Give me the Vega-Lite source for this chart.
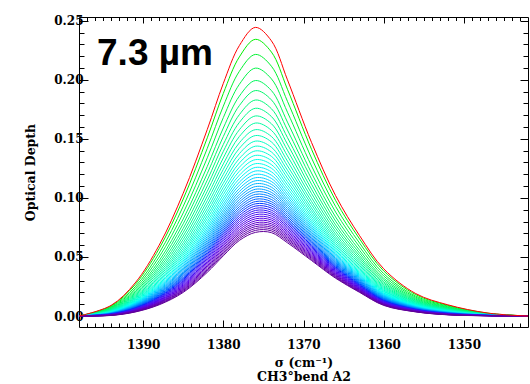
{"$schema":"https://vega.github.io/schema/vega-lite/v6.json","width":449,"height":310,"autosize":{"type":"none"},"padding":{"left":79,"top":17,"right":2,"bottom":57},"background":"white",
"config":{"view":{"stroke":"#000","strokeWidth":1},"axis":{"grid":false,"domain":false,"tickColor":"#000","tickWidth":1,"labelColor":"#000","titleColor":"#000","labelFont":"DejaVu Serif","labelFontWeight":"bold","labelFontSize":12,"titleFont":"DejaVu Serif","titleFontWeight":"bold","titleFontSize":12.5}},
"data":{"values":[
{"k":0,"x":1398,"y":0},{"k":1,"x":1398,"y":0},{"k":2,"x":1398,"y":0},{"k":3,"x":1398,"y":0},{"k":4,"x":1398,"y":0},{"k":5,"x":1398,"y":0},{"k":6,"x":1398,"y":0},{"k":7,"x":1398,"y":0},{"k":8,"x":1398,"y":0},{"k":9,"x":1398,"y":0},{"k":10,"x":1398,"y":0},{"k":11,"x":1398,"y":0},{"k":12,"x":1398,"y":0},{"k":13,"x":1398,"y":0},{"k":14,"x":1398,"y":0},{"k":15,"x":1398,"y":0},{"k":16,"x":1398,"y":0},{"k":17,"x":1398,"y":0},{"k":18,"x":1398,"y":0},{"k":19,"x":1398,"y":0},{"k":20,"x":1398,"y":0},{"k":21,"x":1398,"y":0},{"k":22,"x":1398,"y":0},{"k":23,"x":1398,"y":0},{"k":24,"x":1398,"y":0},{"k":25,"x":1398,"y":0},{"k":26,"x":1398,"y":0},{"k":27,"x":1398,"y":0},{"k":28,"x":1398,"y":0},{"k":29,"x":1398,"y":0},{"k":30,"x":1398,"y":0},{"k":31,"x":1398,"y":0},{"k":32,"x":1398,"y":0},{"k":33,"x":1398,"y":0},{"k":34,"x":1398,"y":0},{"k":35,"x":1398,"y":0},{"k":36,"x":1398,"y":0},{"k":37,"x":1398,"y":0},{"k":38,"x":1398,"y":0},{"k":39,"x":1398,"y":0},{"k":40,"x":1398,"y":0},{"k":41,"x":1398,"y":0},{"k":42,"x":1398,"y":0},{"k":43,"x":1398,"y":0},{"k":44,"x":1398,"y":0},{"k":45,"x":1398,"y":0},
{"k":0,"x":1394,"y":0.009},{"k":1,"x":1394,"y":0.0085},{"k":2,"x":1394,"y":0.0079},{"k":3,"x":1394,"y":0.0073},{"k":4,"x":1394,"y":0.0068},{"k":5,"x":1394,"y":0.0064},{"k":6,"x":1394,"y":0.006},{"k":7,"x":1394,"y":0.0056},{"k":8,"x":1394,"y":0.0053},{"k":9,"x":1394,"y":0.005},{"k":10,"x":1394,"y":0.0048},{"k":11,"x":1394,"y":0.0045},{"k":12,"x":1394,"y":0.0043},{"k":13,"x":1394,"y":0.0041},{"k":14,"x":1394,"y":0.0039},{"k":15,"x":1394,"y":0.0037},{"k":16,"x":1394,"y":0.0035},{"k":17,"x":1394,"y":0.0033},{"k":18,"x":1394,"y":0.0032},{"k":19,"x":1394,"y":0.003},{"k":20,"x":1394,"y":0.0029},{"k":21,"x":1394,"y":0.0028},{"k":22,"x":1394,"y":0.0026},{"k":23,"x":1394,"y":0.0025},{"k":24,"x":1394,"y":0.0024},{"k":25,"x":1394,"y":0.0023},{"k":26,"x":1394,"y":0.0022},{"k":27,"x":1394,"y":0.0021},{"k":28,"x":1394,"y":0.002},{"k":29,"x":1394,"y":0.0019},{"k":30,"x":1394,"y":0.0018},{"k":31,"x":1394,"y":0.0017},{"k":32,"x":1394,"y":0.0016},{"k":33,"x":1394,"y":0.0015},{"k":34,"x":1394,"y":0.0014},{"k":35,"x":1394,"y":0.0013},{"k":36,"x":1394,"y":0.0012},{"k":37,"x":1394,"y":0.0011},{"k":38,"x":1394,"y":0.0011},{"k":39,"x":1394,"y":0.001},{"k":40,"x":1394,"y":0.0009},{"k":41,"x":1394,"y":0.0008},{"k":42,"x":1394,"y":0.0007},{"k":43,"x":1394,"y":0.0007},{"k":44,"x":1394,"y":0.0006},{"k":45,"x":1394,"y":0.0005},
{"k":0,"x":1391,"y":0.028},{"k":1,"x":1391,"y":0.0266},{"k":2,"x":1391,"y":0.0247},{"k":3,"x":1391,"y":0.0231},{"k":4,"x":1391,"y":0.0216},{"k":5,"x":1391,"y":0.0204},{"k":6,"x":1391,"y":0.0193},{"k":7,"x":1391,"y":0.0183},{"k":8,"x":1391,"y":0.0174},{"k":9,"x":1391,"y":0.0165},{"k":10,"x":1391,"y":0.0157},{"k":11,"x":1391,"y":0.015},{"k":12,"x":1391,"y":0.0144},{"k":13,"x":1391,"y":0.0137},{"k":14,"x":1391,"y":0.0132},{"k":15,"x":1391,"y":0.0126},{"k":16,"x":1391,"y":0.0121},{"k":17,"x":1391,"y":0.0116},{"k":18,"x":1391,"y":0.0112},{"k":19,"x":1391,"y":0.0108},{"k":20,"x":1391,"y":0.0104},{"k":21,"x":1391,"y":0.01},{"k":22,"x":1391,"y":0.0096},{"k":23,"x":1391,"y":0.0092},{"k":24,"x":1391,"y":0.0089},{"k":25,"x":1391,"y":0.0086},{"k":26,"x":1391,"y":0.0083},{"k":27,"x":1391,"y":0.008},{"k":28,"x":1391,"y":0.0077},{"k":29,"x":1391,"y":0.0074},{"k":30,"x":1391,"y":0.0071},{"k":31,"x":1391,"y":0.0068},{"k":32,"x":1391,"y":0.0066},{"k":33,"x":1391,"y":0.0063},{"k":34,"x":1391,"y":0.006},{"k":35,"x":1391,"y":0.0058},{"k":36,"x":1391,"y":0.0055},{"k":37,"x":1391,"y":0.0053},{"k":38,"x":1391,"y":0.005},{"k":39,"x":1391,"y":0.0048},{"k":40,"x":1391,"y":0.0045},{"k":41,"x":1391,"y":0.0043},{"k":42,"x":1391,"y":0.0041},{"k":43,"x":1391,"y":0.0039},{"k":44,"x":1391,"y":0.0036},{"k":45,"x":1391,"y":0.0034},
{"k":0,"x":1388,"y":0.06},{"k":1,"x":1388,"y":0.0571},{"k":2,"x":1388,"y":0.0533},{"k":3,"x":1388,"y":0.05},{"k":4,"x":1388,"y":0.0469},{"k":5,"x":1388,"y":0.0444},{"k":6,"x":1388,"y":0.0421},{"k":7,"x":1388,"y":0.0401},{"k":8,"x":1388,"y":0.0382},{"k":9,"x":1388,"y":0.0364},{"k":10,"x":1388,"y":0.0348},{"k":11,"x":1388,"y":0.0334},{"k":12,"x":1388,"y":0.032},{"k":13,"x":1388,"y":0.0307},{"k":14,"x":1388,"y":0.0296},{"k":15,"x":1388,"y":0.0285},{"k":16,"x":1388,"y":0.0274},{"k":17,"x":1388,"y":0.0264},{"k":18,"x":1388,"y":0.0255},{"k":19,"x":1388,"y":0.0246},{"k":20,"x":1388,"y":0.0238},{"k":21,"x":1388,"y":0.023},{"k":22,"x":1388,"y":0.0222},{"k":23,"x":1388,"y":0.0215},{"k":24,"x":1388,"y":0.0208},{"k":25,"x":1388,"y":0.0201},{"k":26,"x":1388,"y":0.0195},{"k":27,"x":1388,"y":0.0189},{"k":28,"x":1388,"y":0.0182},{"k":29,"x":1388,"y":0.0177},{"k":30,"x":1388,"y":0.0171},{"k":31,"x":1388,"y":0.0165},{"k":32,"x":1388,"y":0.016},{"k":33,"x":1388,"y":0.0154},{"k":34,"x":1388,"y":0.0149},{"k":35,"x":1388,"y":0.0144},{"k":36,"x":1388,"y":0.0138},{"k":37,"x":1388,"y":0.0133},{"k":38,"x":1388,"y":0.0128},{"k":39,"x":1388,"y":0.0123},{"k":40,"x":1388,"y":0.0118},{"k":41,"x":1388,"y":0.0114},{"k":42,"x":1388,"y":0.0109},{"k":43,"x":1388,"y":0.0104},{"k":44,"x":1388,"y":0.01},{"k":45,"x":1388,"y":0.0095},
{"k":0,"x":1385,"y":0.104},{"k":1,"x":1385,"y":0.0991},{"k":2,"x":1385,"y":0.0929},{"k":3,"x":1385,"y":0.0873},{"k":4,"x":1385,"y":0.0822},{"k":5,"x":1385,"y":0.0781},{"k":6,"x":1385,"y":0.0742},{"k":7,"x":1385,"y":0.0708},{"k":8,"x":1385,"y":0.0677},{"k":9,"x":1385,"y":0.0648},{"k":10,"x":1385,"y":0.0621},{"k":11,"x":1385,"y":0.0597},{"k":12,"x":1385,"y":0.0574},{"k":13,"x":1385,"y":0.0553},{"k":14,"x":1385,"y":0.0534},{"k":15,"x":1385,"y":0.0516},{"k":16,"x":1385,"y":0.0498},{"k":17,"x":1385,"y":0.0482},{"k":18,"x":1385,"y":0.0466},{"k":19,"x":1385,"y":0.0452},{"k":20,"x":1385,"y":0.0438},{"k":21,"x":1385,"y":0.0424},{"k":22,"x":1385,"y":0.0411},{"k":23,"x":1385,"y":0.0399},{"k":24,"x":1385,"y":0.0388},{"k":25,"x":1385,"y":0.0376},{"k":26,"x":1385,"y":0.0366},{"k":27,"x":1385,"y":0.0356},{"k":28,"x":1385,"y":0.0345},{"k":29,"x":1385,"y":0.0336},{"k":30,"x":1385,"y":0.0326},{"k":31,"x":1385,"y":0.0317},{"k":32,"x":1385,"y":0.0308},{"k":33,"x":1385,"y":0.0298},{"k":34,"x":1385,"y":0.029},{"k":35,"x":1385,"y":0.0281},{"k":36,"x":1385,"y":0.0272},{"k":37,"x":1385,"y":0.0263},{"k":38,"x":1385,"y":0.0255},{"k":39,"x":1385,"y":0.0247},{"k":40,"x":1385,"y":0.0239},{"k":41,"x":1385,"y":0.0231},{"k":42,"x":1385,"y":0.0223},{"k":43,"x":1385,"y":0.0216},{"k":44,"x":1385,"y":0.0208},{"k":45,"x":1385,"y":0.02},
{"k":0,"x":1382,"y":0.158},{"k":1,"x":1382,"y":0.1509},{"k":2,"x":1382,"y":0.142},{"k":3,"x":1382,"y":0.134},{"k":4,"x":1382,"y":0.1267},{"k":5,"x":1382,"y":0.1207},{"k":6,"x":1382,"y":0.1151},{"k":7,"x":1382,"y":0.1102},{"k":8,"x":1382,"y":0.1057},{"k":9,"x":1382,"y":0.1015},{"k":10,"x":1382,"y":0.0977},{"k":11,"x":1382,"y":0.0942},{"k":12,"x":1382,"y":0.0909},{"k":13,"x":1382,"y":0.0879},{"k":14,"x":1382,"y":0.0851},{"k":15,"x":1382,"y":0.0825},{"k":16,"x":1382,"y":0.0799},{"k":17,"x":1382,"y":0.0776},{"k":18,"x":1382,"y":0.0753},{"k":19,"x":1382,"y":0.0732},{"k":20,"x":1382,"y":0.0712},{"k":21,"x":1382,"y":0.0693},{"k":22,"x":1382,"y":0.0674},{"k":23,"x":1382,"y":0.0657},{"k":24,"x":1382,"y":0.064},{"k":25,"x":1382,"y":0.0624},{"k":26,"x":1382,"y":0.0609},{"k":27,"x":1382,"y":0.0594},{"k":28,"x":1382,"y":0.0579},{"k":29,"x":1382,"y":0.0565},{"k":30,"x":1382,"y":0.0552},{"k":31,"x":1382,"y":0.0538},{"k":32,"x":1382,"y":0.0525},{"k":33,"x":1382,"y":0.0512},{"k":34,"x":1382,"y":0.0499},{"k":35,"x":1382,"y":0.0487},{"k":36,"x":1382,"y":0.0474},{"k":37,"x":1382,"y":0.0461},{"k":38,"x":1382,"y":0.045},{"k":39,"x":1382,"y":0.0438},{"k":40,"x":1382,"y":0.0426},{"k":41,"x":1382,"y":0.0415},{"k":42,"x":1382,"y":0.0403},{"k":43,"x":1382,"y":0.0392},{"k":44,"x":1382,"y":0.0381},{"k":45,"x":1382,"y":0.037},
{"k":0,"x":1380,"y":0.197},{"k":1,"x":1380,"y":0.1885},{"k":2,"x":1380,"y":0.1777},{"k":3,"x":1380,"y":0.168},{"k":4,"x":1380,"y":0.1592},{"k":5,"x":1380,"y":0.152},{"k":6,"x":1380,"y":0.1453},{"k":7,"x":1380,"y":0.1394},{"k":8,"x":1380,"y":0.1339},{"k":9,"x":1380,"y":0.1288},{"k":10,"x":1380,"y":0.1242},{"k":11,"x":1380,"y":0.12},{"k":12,"x":1380,"y":0.116},{"k":13,"x":1380,"y":0.1124},{"k":14,"x":1380,"y":0.109},{"k":15,"x":1380,"y":0.1058},{"k":16,"x":1380,"y":0.1028},{"k":17,"x":1380,"y":0.0999},{"k":18,"x":1380,"y":0.0973},{"k":19,"x":1380,"y":0.0947},{"k":20,"x":1380,"y":0.0923},{"k":21,"x":1380,"y":0.0899},{"k":22,"x":1380,"y":0.0877},{"k":23,"x":1380,"y":0.0856},{"k":24,"x":1380,"y":0.0836},{"k":25,"x":1380,"y":0.0817},{"k":26,"x":1380,"y":0.0798},{"k":27,"x":1380,"y":0.078},{"k":28,"x":1380,"y":0.0763},{"k":29,"x":1380,"y":0.0746},{"k":30,"x":1380,"y":0.0729},{"k":31,"x":1380,"y":0.0713},{"k":32,"x":1380,"y":0.0697},{"k":33,"x":1380,"y":0.0681},{"k":34,"x":1380,"y":0.0666},{"k":35,"x":1380,"y":0.0651},{"k":36,"x":1380,"y":0.0636},{"k":37,"x":1380,"y":0.062},{"k":38,"x":1380,"y":0.0606},{"k":39,"x":1380,"y":0.0592},{"k":40,"x":1380,"y":0.0577},{"k":41,"x":1380,"y":0.0564},{"k":42,"x":1380,"y":0.055},{"k":43,"x":1380,"y":0.0537},{"k":44,"x":1380,"y":0.0524},{"k":45,"x":1380,"y":0.051},
{"k":0,"x":1378,"y":0.229},{"k":1,"x":1378,"y":0.2194},{"k":2,"x":1378,"y":0.2072},{"k":3,"x":1378,"y":0.1962},{"k":4,"x":1378,"y":0.1862},{"k":5,"x":1378,"y":0.1782},{"k":6,"x":1378,"y":0.1705},{"k":7,"x":1378,"y":0.1639},{"k":8,"x":1378,"y":0.1577},{"k":9,"x":1378,"y":0.152},{"k":10,"x":1378,"y":0.1467},{"k":11,"x":1378,"y":0.142},{"k":12,"x":1378,"y":0.1375},{"k":13,"x":1378,"y":0.1334},{"k":14,"x":1378,"y":0.1296},{"k":15,"x":1378,"y":0.126},{"k":16,"x":1378,"y":0.1226},{"k":17,"x":1378,"y":0.1193},{"k":18,"x":1378,"y":0.1163},{"k":19,"x":1378,"y":0.1134},{"k":20,"x":1378,"y":0.1107},{"k":21,"x":1378,"y":0.108},{"k":22,"x":1378,"y":0.1055},{"k":23,"x":1378,"y":0.1031},{"k":24,"x":1378,"y":0.1009},{"k":25,"x":1378,"y":0.0987},{"k":26,"x":1378,"y":0.0966},{"k":27,"x":1378,"y":0.0946},{"k":28,"x":1378,"y":0.0926},{"k":29,"x":1378,"y":0.0907},{"k":30,"x":1378,"y":0.0888},{"k":31,"x":1378,"y":0.087},{"k":32,"x":1378,"y":0.0851},{"k":33,"x":1378,"y":0.0833},{"k":34,"x":1378,"y":0.0816},{"k":35,"x":1378,"y":0.0799},{"k":36,"x":1378,"y":0.0782},{"k":37,"x":1378,"y":0.0765},{"k":38,"x":1378,"y":0.0749},{"k":39,"x":1378,"y":0.0732},{"k":40,"x":1378,"y":0.0716},{"k":41,"x":1378,"y":0.0701},{"k":42,"x":1378,"y":0.0686},{"k":43,"x":1378,"y":0.067},{"k":44,"x":1378,"y":0.0655},{"k":45,"x":1378,"y":0.064},
{"k":0,"x":1376,"y":0.2444},{"k":1,"x":1376,"y":0.2343},{"k":2,"x":1376,"y":0.2215},{"k":3,"x":1376,"y":0.2099},{"k":4,"x":1376,"y":0.1994},{"k":5,"x":1376,"y":0.1909},{"k":6,"x":1376,"y":0.1829},{"k":7,"x":1376,"y":0.1759},{"k":8,"x":1376,"y":0.1694},{"k":9,"x":1376,"y":0.1634},{"k":10,"x":1376,"y":0.1578},{"k":11,"x":1376,"y":0.1528},{"k":12,"x":1376,"y":0.1481},{"k":13,"x":1376,"y":0.1438},{"k":14,"x":1376,"y":0.1398},{"k":15,"x":1376,"y":0.136},{"k":16,"x":1376,"y":0.1324},{"k":17,"x":1376,"y":0.129},{"k":18,"x":1376,"y":0.1258},{"k":19,"x":1376,"y":0.1228},{"k":20,"x":1376,"y":0.1199},{"k":21,"x":1376,"y":0.1171},{"k":22,"x":1376,"y":0.1145},{"k":23,"x":1376,"y":0.112},{"k":24,"x":1376,"y":0.1096},{"k":25,"x":1376,"y":0.1073},{"k":26,"x":1376,"y":0.1051},{"k":27,"x":1376,"y":0.103},{"k":28,"x":1376,"y":0.1009},{"k":29,"x":1376,"y":0.0989},{"k":30,"x":1376,"y":0.0969},{"k":31,"x":1376,"y":0.095},{"k":32,"x":1376,"y":0.0931},{"k":33,"x":1376,"y":0.0912},{"k":34,"x":1376,"y":0.0894},{"k":35,"x":1376,"y":0.0876},{"k":36,"x":1376,"y":0.0858},{"k":37,"x":1376,"y":0.084},{"k":38,"x":1376,"y":0.0823},{"k":39,"x":1376,"y":0.0806},{"k":40,"x":1376,"y":0.0789},{"k":41,"x":1376,"y":0.0773},{"k":42,"x":1376,"y":0.0757},{"k":43,"x":1376,"y":0.0741},{"k":44,"x":1376,"y":0.0725},{"k":45,"x":1376,"y":0.0708},
{"k":0,"x":1374,"y":0.233},{"k":1,"x":1374,"y":0.2235},{"k":2,"x":1374,"y":0.2115},{"k":3,"x":1374,"y":0.2008},{"k":4,"x":1374,"y":0.1909},{"k":5,"x":1374,"y":0.183},{"k":6,"x":1374,"y":0.1755},{"k":7,"x":1374,"y":0.1689},{"k":8,"x":1374,"y":0.1628},{"k":9,"x":1374,"y":0.1572},{"k":10,"x":1374,"y":0.152},{"k":11,"x":1374,"y":0.1474},{"k":12,"x":1374,"y":0.1429},{"k":13,"x":1374,"y":0.1389},{"k":14,"x":1374,"y":0.1352},{"k":15,"x":1374,"y":0.1316},{"k":16,"x":1374,"y":0.1282},{"k":17,"x":1374,"y":0.1251},{"k":18,"x":1374,"y":0.1221},{"k":19,"x":1374,"y":0.1192},{"k":20,"x":1374,"y":0.1165},{"k":21,"x":1374,"y":0.1139},{"k":22,"x":1374,"y":0.1115},{"k":23,"x":1374,"y":0.1091},{"k":24,"x":1374,"y":0.1069},{"k":25,"x":1374,"y":0.1047},{"k":26,"x":1374,"y":0.1027},{"k":27,"x":1374,"y":0.1007},{"k":28,"x":1374,"y":0.0987},{"k":29,"x":1374,"y":0.0968},{"k":30,"x":1374,"y":0.095},{"k":31,"x":1374,"y":0.0932},{"k":32,"x":1374,"y":0.0914},{"k":33,"x":1374,"y":0.0896},{"k":34,"x":1374,"y":0.0879},{"k":35,"x":1374,"y":0.0863},{"k":36,"x":1374,"y":0.0846},{"k":37,"x":1374,"y":0.0829},{"k":38,"x":1374,"y":0.0813},{"k":39,"x":1374,"y":0.0797},{"k":40,"x":1374,"y":0.0781},{"k":41,"x":1374,"y":0.0766},{"k":42,"x":1374,"y":0.0751},{"k":43,"x":1374,"y":0.0736},{"k":44,"x":1374,"y":0.0721},{"k":45,"x":1374,"y":0.0706},
{"k":0,"x":1372,"y":0.2},{"k":1,"x":1372,"y":0.192},{"k":2,"x":1372,"y":0.1818},{"k":3,"x":1372,"y":0.1726},{"k":4,"x":1372,"y":0.1642},{"k":5,"x":1372,"y":0.1575},{"k":6,"x":1372,"y":0.1511},{"k":7,"x":1372,"y":0.1455},{"k":8,"x":1372,"y":0.1404},{"k":9,"x":1372,"y":0.1356},{"k":10,"x":1372,"y":0.1312},{"k":11,"x":1372,"y":0.1272},{"k":12,"x":1372,"y":0.1235},{"k":13,"x":1372,"y":0.1201},{"k":14,"x":1372,"y":0.1169},{"k":15,"x":1372,"y":0.1138},{"k":16,"x":1372,"y":0.111},{"k":17,"x":1372,"y":0.1083},{"k":18,"x":1372,"y":0.1057},{"k":19,"x":1372,"y":0.1033},{"k":20,"x":1372,"y":0.101},{"k":21,"x":1372,"y":0.0988},{"k":22,"x":1372,"y":0.0967},{"k":23,"x":1372,"y":0.0947},{"k":24,"x":1372,"y":0.0928},{"k":25,"x":1372,"y":0.091},{"k":26,"x":1372,"y":0.0892},{"k":27,"x":1372,"y":0.0876},{"k":28,"x":1372,"y":0.0859},{"k":29,"x":1372,"y":0.0843},{"k":30,"x":1372,"y":0.0827},{"k":31,"x":1372,"y":0.0812},{"k":32,"x":1372,"y":0.0797},{"k":33,"x":1372,"y":0.0782},{"k":34,"x":1372,"y":0.0767},{"k":35,"x":1372,"y":0.0753},{"k":36,"x":1372,"y":0.0739},{"k":37,"x":1372,"y":0.0724},{"k":38,"x":1372,"y":0.0711},{"k":39,"x":1372,"y":0.0697},{"k":40,"x":1372,"y":0.0684},{"k":41,"x":1372,"y":0.0671},{"k":42,"x":1372,"y":0.0658},{"k":43,"x":1372,"y":0.0646},{"k":44,"x":1372,"y":0.0633},{"k":45,"x":1372,"y":0.062},
{"k":0,"x":1369,"y":0.147},{"k":1,"x":1369,"y":0.1412},{"k":2,"x":1369,"y":0.1338},{"k":3,"x":1369,"y":0.1271},{"k":4,"x":1369,"y":0.1211},{"k":5,"x":1369,"y":0.1162},{"k":6,"x":1369,"y":0.1116},{"k":7,"x":1369,"y":0.1075},{"k":8,"x":1369,"y":0.1038},{"k":9,"x":1369,"y":0.1003},{"k":10,"x":1369,"y":0.0971},{"k":11,"x":1369,"y":0.0943},{"k":12,"x":1369,"y":0.0915},{"k":13,"x":1369,"y":0.0891},{"k":14,"x":1369,"y":0.0868},{"k":15,"x":1369,"y":0.0846},{"k":16,"x":1369,"y":0.0825},{"k":17,"x":1369,"y":0.0805},{"k":18,"x":1369,"y":0.0787},{"k":19,"x":1369,"y":0.0769},{"k":20,"x":1369,"y":0.0753},{"k":21,"x":1369,"y":0.0737},{"k":22,"x":1369,"y":0.0722},{"k":23,"x":1369,"y":0.0707},{"k":24,"x":1369,"y":0.0693},{"k":25,"x":1369,"y":0.068},{"k":26,"x":1369,"y":0.0667},{"k":27,"x":1369,"y":0.0655},{"k":28,"x":1369,"y":0.0643},{"k":29,"x":1369,"y":0.0632},{"k":30,"x":1369,"y":0.062},{"k":31,"x":1369,"y":0.0609},{"k":32,"x":1369,"y":0.0598},{"k":33,"x":1369,"y":0.0587},{"k":34,"x":1369,"y":0.0577},{"k":35,"x":1369,"y":0.0566},{"k":36,"x":1369,"y":0.0556},{"k":37,"x":1369,"y":0.0546},{"k":38,"x":1369,"y":0.0536},{"k":39,"x":1369,"y":0.0526},{"k":40,"x":1369,"y":0.0516},{"k":41,"x":1369,"y":0.0507},{"k":42,"x":1369,"y":0.0498},{"k":43,"x":1369,"y":0.0489},{"k":44,"x":1369,"y":0.0479},{"k":45,"x":1369,"y":0.047},
{"k":0,"x":1366,"y":0.102},{"k":1,"x":1366,"y":0.0979},{"k":2,"x":1366,"y":0.0928},{"k":3,"x":1366,"y":0.0881},{"k":4,"x":1366,"y":0.0839},{"k":5,"x":1366,"y":0.0804},{"k":6,"x":1366,"y":0.0772},{"k":7,"x":1366,"y":0.0744},{"k":8,"x":1366,"y":0.0717},{"k":9,"x":1366,"y":0.0693},{"k":10,"x":1366,"y":0.0671},{"k":11,"x":1366,"y":0.0651},{"k":12,"x":1366,"y":0.0632},{"k":13,"x":1366,"y":0.0614},{"k":14,"x":1366,"y":0.0598},{"k":15,"x":1366,"y":0.0583},{"k":16,"x":1366,"y":0.0568},{"k":17,"x":1366,"y":0.0555},{"k":18,"x":1366,"y":0.0542},{"k":19,"x":1366,"y":0.053},{"k":20,"x":1366,"y":0.0518},{"k":21,"x":1366,"y":0.0507},{"k":22,"x":1366,"y":0.0496},{"k":23,"x":1366,"y":0.0486},{"k":24,"x":1366,"y":0.0476},{"k":25,"x":1366,"y":0.0467},{"k":26,"x":1366,"y":0.0458},{"k":27,"x":1366,"y":0.045},{"k":28,"x":1366,"y":0.0441},{"k":29,"x":1366,"y":0.0433},{"k":30,"x":1366,"y":0.0425},{"k":31,"x":1366,"y":0.0417},{"k":32,"x":1366,"y":0.041},{"k":33,"x":1366,"y":0.0402},{"k":34,"x":1366,"y":0.0395},{"k":35,"x":1366,"y":0.0387},{"k":36,"x":1366,"y":0.038},{"k":37,"x":1366,"y":0.0373},{"k":38,"x":1366,"y":0.0366},{"k":39,"x":1366,"y":0.0359},{"k":40,"x":1366,"y":0.0352},{"k":41,"x":1366,"y":0.0346},{"k":42,"x":1366,"y":0.0339},{"k":43,"x":1366,"y":0.0333},{"k":44,"x":1366,"y":0.0326},{"k":45,"x":1366,"y":0.032},
{"k":0,"x":1363,"y":0.068},{"k":1,"x":1363,"y":0.0652},{"k":2,"x":1363,"y":0.0617},{"k":3,"x":1363,"y":0.0585},{"k":4,"x":1363,"y":0.0556},{"k":5,"x":1363,"y":0.0532},{"k":6,"x":1363,"y":0.051},{"k":7,"x":1363,"y":0.0491},{"k":8,"x":1363,"y":0.0473},{"k":9,"x":1363,"y":0.0456},{"k":10,"x":1363,"y":0.0441},{"k":11,"x":1363,"y":0.0427},{"k":12,"x":1363,"y":0.0414},{"k":13,"x":1363,"y":0.0402},{"k":14,"x":1363,"y":0.0391},{"k":15,"x":1363,"y":0.038},{"k":16,"x":1363,"y":0.037},{"k":17,"x":1363,"y":0.0361},{"k":18,"x":1363,"y":0.0352},{"k":19,"x":1363,"y":0.0344},{"k":20,"x":1363,"y":0.0336},{"k":21,"x":1363,"y":0.0328},{"k":22,"x":1363,"y":0.0321},{"k":23,"x":1363,"y":0.0314},{"k":24,"x":1363,"y":0.0307},{"k":25,"x":1363,"y":0.0301},{"k":26,"x":1363,"y":0.0295},{"k":27,"x":1363,"y":0.0289},{"k":28,"x":1363,"y":0.0283},{"k":29,"x":1363,"y":0.0278},{"k":30,"x":1363,"y":0.0272},{"k":31,"x":1363,"y":0.0267},{"k":32,"x":1363,"y":0.0261},{"k":33,"x":1363,"y":0.0256},{"k":34,"x":1363,"y":0.0251},{"k":35,"x":1363,"y":0.0246},{"k":36,"x":1363,"y":0.0241},{"k":37,"x":1363,"y":0.0236},{"k":38,"x":1363,"y":0.0232},{"k":39,"x":1363,"y":0.0227},{"k":40,"x":1363,"y":0.0222},{"k":41,"x":1363,"y":0.0218},{"k":42,"x":1363,"y":0.0213},{"k":43,"x":1363,"y":0.0209},{"k":44,"x":1363,"y":0.0204},{"k":45,"x":1363,"y":0.02},
{"k":0,"x":1360,"y":0.04},{"k":1,"x":1360,"y":0.0382},{"k":2,"x":1360,"y":0.0359},{"k":3,"x":1360,"y":0.0339},{"k":4,"x":1360,"y":0.032},{"k":5,"x":1360,"y":0.0305},{"k":6,"x":1360,"y":0.029},{"k":7,"x":1360,"y":0.0278},{"k":8,"x":1360,"y":0.0266},{"k":9,"x":1360,"y":0.0255},{"k":10,"x":1360,"y":0.0246},{"k":11,"x":1360,"y":0.0237},{"k":12,"x":1360,"y":0.0228},{"k":13,"x":1360,"y":0.022},{"k":14,"x":1360,"y":0.0213},{"k":15,"x":1360,"y":0.0207},{"k":16,"x":1360,"y":0.02},{"k":17,"x":1360,"y":0.0194},{"k":18,"x":1360,"y":0.0188},{"k":19,"x":1360,"y":0.0183},{"k":20,"x":1360,"y":0.0178},{"k":21,"x":1360,"y":0.0173},{"k":22,"x":1360,"y":0.0168},{"k":23,"x":1360,"y":0.0164},{"k":24,"x":1360,"y":0.0159},{"k":25,"x":1360,"y":0.0155},{"k":26,"x":1360,"y":0.0151},{"k":27,"x":1360,"y":0.0147},{"k":28,"x":1360,"y":0.0144},{"k":29,"x":1360,"y":0.014},{"k":30,"x":1360,"y":0.0137},{"k":31,"x":1360,"y":0.0133},{"k":32,"x":1360,"y":0.013},{"k":33,"x":1360,"y":0.0126},{"k":34,"x":1360,"y":0.0123},{"k":35,"x":1360,"y":0.012},{"k":36,"x":1360,"y":0.0117},{"k":37,"x":1360,"y":0.0113},{"k":38,"x":1360,"y":0.011},{"k":39,"x":1360,"y":0.0107},{"k":40,"x":1360,"y":0.0104},{"k":41,"x":1360,"y":0.0101},{"k":42,"x":1360,"y":0.0099},{"k":43,"x":1360,"y":0.0096},{"k":44,"x":1360,"y":0.0093},{"k":45,"x":1360,"y":0.009},
{"k":0,"x":1356,"y":0.019},{"k":1,"x":1356,"y":0.0181},{"k":2,"x":1356,"y":0.0169},{"k":3,"x":1356,"y":0.0159},{"k":4,"x":1356,"y":0.015},{"k":5,"x":1356,"y":0.0142},{"k":6,"x":1356,"y":0.0135},{"k":7,"x":1356,"y":0.0129},{"k":8,"x":1356,"y":0.0123},{"k":9,"x":1356,"y":0.0118},{"k":10,"x":1356,"y":0.0113},{"k":11,"x":1356,"y":0.0108},{"k":12,"x":1356,"y":0.0104},{"k":13,"x":1356,"y":0.01},{"k":14,"x":1356,"y":0.0097},{"k":15,"x":1356,"y":0.0093},{"k":16,"x":1356,"y":0.009},{"k":17,"x":1356,"y":0.0087},{"k":18,"x":1356,"y":0.0084},{"k":19,"x":1356,"y":0.0081},{"k":20,"x":1356,"y":0.0079},{"k":21,"x":1356,"y":0.0076},{"k":22,"x":1356,"y":0.0074},{"k":23,"x":1356,"y":0.0072},{"k":24,"x":1356,"y":0.007},{"k":25,"x":1356,"y":0.0068},{"k":26,"x":1356,"y":0.0066},{"k":27,"x":1356,"y":0.0064},{"k":28,"x":1356,"y":0.0062},{"k":29,"x":1356,"y":0.006},{"k":30,"x":1356,"y":0.0058},{"k":31,"x":1356,"y":0.0057},{"k":32,"x":1356,"y":0.0055},{"k":33,"x":1356,"y":0.0053},{"k":34,"x":1356,"y":0.0052},{"k":35,"x":1356,"y":0.005},{"k":36,"x":1356,"y":0.0048},{"k":37,"x":1356,"y":0.0047},{"k":38,"x":1356,"y":0.0045},{"k":39,"x":1356,"y":0.0044},{"k":40,"x":1356,"y":0.0042},{"k":41,"x":1356,"y":0.0041},{"k":42,"x":1356,"y":0.0039},{"k":43,"x":1356,"y":0.0038},{"k":44,"x":1356,"y":0.0036},{"k":45,"x":1356,"y":0.0035},
{"k":0,"x":1352,"y":0.0095},{"k":1,"x":1352,"y":0.009},{"k":2,"x":1352,"y":0.0084},{"k":3,"x":1352,"y":0.0078},{"k":4,"x":1352,"y":0.0073},{"k":5,"x":1352,"y":0.0069},{"k":6,"x":1352,"y":0.0065},{"k":7,"x":1352,"y":0.0061},{"k":8,"x":1352,"y":0.0058},{"k":9,"x":1352,"y":0.0055},{"k":10,"x":1352,"y":0.0053},{"k":11,"x":1352,"y":0.005},{"k":12,"x":1352,"y":0.0048},{"k":13,"x":1352,"y":0.0046},{"k":14,"x":1352,"y":0.0044},{"k":15,"x":1352,"y":0.0042},{"k":16,"x":1352,"y":0.004},{"k":17,"x":1352,"y":0.0038},{"k":18,"x":1352,"y":0.0037},{"k":19,"x":1352,"y":0.0035},{"k":20,"x":1352,"y":0.0034},{"k":21,"x":1352,"y":0.0033},{"k":22,"x":1352,"y":0.0031},{"k":23,"x":1352,"y":0.003},{"k":24,"x":1352,"y":0.0029},{"k":25,"x":1352,"y":0.0028},{"k":26,"x":1352,"y":0.0027},{"k":27,"x":1352,"y":0.0026},{"k":28,"x":1352,"y":0.0025},{"k":29,"x":1352,"y":0.0024},{"k":30,"x":1352,"y":0.0023},{"k":31,"x":1352,"y":0.0022},{"k":32,"x":1352,"y":0.0021},{"k":33,"x":1352,"y":0.002},{"k":34,"x":1352,"y":0.0019},{"k":35,"x":1352,"y":0.0018},{"k":36,"x":1352,"y":0.0017},{"k":37,"x":1352,"y":0.0016},{"k":38,"x":1352,"y":0.0016},{"k":39,"x":1352,"y":0.0015},{"k":40,"x":1352,"y":0.0014},{"k":41,"x":1352,"y":0.0013},{"k":42,"x":1352,"y":0.0012},{"k":43,"x":1352,"y":0.0012},{"k":44,"x":1352,"y":0.0011},{"k":45,"x":1352,"y":0.001},
{"k":0,"x":1347,"y":0.0025},{"k":1,"x":1347,"y":0.0024},{"k":2,"x":1347,"y":0.0022},{"k":3,"x":1347,"y":0.002},{"k":4,"x":1347,"y":0.0019},{"k":5,"x":1347,"y":0.0018},{"k":6,"x":1347,"y":0.0017},{"k":7,"x":1347,"y":0.0016},{"k":8,"x":1347,"y":0.0015},{"k":9,"x":1347,"y":0.0014},{"k":10,"x":1347,"y":0.0014},{"k":11,"x":1347,"y":0.0013},{"k":12,"x":1347,"y":0.0012},{"k":13,"x":1347,"y":0.0012},{"k":14,"x":1347,"y":0.0011},{"k":15,"x":1347,"y":0.0011},{"k":16,"x":1347,"y":0.001},{"k":17,"x":1347,"y":0.001},{"k":18,"x":1347,"y":0.0009},{"k":19,"x":1347,"y":0.0009},{"k":20,"x":1347,"y":0.0009},{"k":21,"x":1347,"y":0.0008},{"k":22,"x":1347,"y":0.0008},{"k":23,"x":1347,"y":0.0007},{"k":24,"x":1347,"y":0.0007},{"k":25,"x":1347,"y":0.0007},{"k":26,"x":1347,"y":0.0007},{"k":27,"x":1347,"y":0.0006},{"k":28,"x":1347,"y":0.0006},{"k":29,"x":1347,"y":0.0006},{"k":30,"x":1347,"y":0.0005},{"k":31,"x":1347,"y":0.0005},{"k":32,"x":1347,"y":0.0005},{"k":33,"x":1347,"y":0.0005},{"k":34,"x":1347,"y":0.0004},{"k":35,"x":1347,"y":0.0004},{"k":36,"x":1347,"y":0.0004},{"k":37,"x":1347,"y":0.0004},{"k":38,"x":1347,"y":0.0003},{"k":39,"x":1347,"y":0.0003},{"k":40,"x":1347,"y":0.0003},{"k":41,"x":1347,"y":0.0003},{"k":42,"x":1347,"y":0.0003},{"k":43,"x":1347,"y":0.0002},{"k":44,"x":1347,"y":0.0002},{"k":45,"x":1347,"y":0.0002},
{"k":0,"x":1342,"y":0},{"k":1,"x":1342,"y":0},{"k":2,"x":1342,"y":0},{"k":3,"x":1342,"y":0},{"k":4,"x":1342,"y":0},{"k":5,"x":1342,"y":0},{"k":6,"x":1342,"y":0},{"k":7,"x":1342,"y":0},{"k":8,"x":1342,"y":0},{"k":9,"x":1342,"y":0},{"k":10,"x":1342,"y":0},{"k":11,"x":1342,"y":0},{"k":12,"x":1342,"y":0},{"k":13,"x":1342,"y":0},{"k":14,"x":1342,"y":0},{"k":15,"x":1342,"y":0},{"k":16,"x":1342,"y":0},{"k":17,"x":1342,"y":0},{"k":18,"x":1342,"y":0},{"k":19,"x":1342,"y":0},{"k":20,"x":1342,"y":0},{"k":21,"x":1342,"y":0},{"k":22,"x":1342,"y":0},{"k":23,"x":1342,"y":0},{"k":24,"x":1342,"y":0},{"k":25,"x":1342,"y":0},{"k":26,"x":1342,"y":0},{"k":27,"x":1342,"y":0},{"k":28,"x":1342,"y":0},{"k":29,"x":1342,"y":0},{"k":30,"x":1342,"y":0},{"k":31,"x":1342,"y":0},{"k":32,"x":1342,"y":0},{"k":33,"x":1342,"y":0},{"k":34,"x":1342,"y":0},{"k":35,"x":1342,"y":0},{"k":36,"x":1342,"y":0},{"k":37,"x":1342,"y":0},{"k":38,"x":1342,"y":0},{"k":39,"x":1342,"y":0},{"k":40,"x":1342,"y":0},{"k":41,"x":1342,"y":0},{"k":42,"x":1342,"y":0},{"k":43,"x":1342,"y":0},{"k":44,"x":1342,"y":0},{"k":45,"x":1342,"y":0}
]},
"resolve":{"axis":{"x":"independent","y":"independent"}},
"layer":[
{"transform":[{"filter":"datum.k > 0"}],"mark":{"type":"line","interpolate":"catmull-rom","strokeWidth":1,"clip":true},
"encoding":{
"x":{"field":"x","type":"quantitative","scale":{"domain":[1342,1398],"reverse":true,"nice":false,"zero":false},"axis":{"orient":"bottom","values":[1390,1380,1370,1360,1350],"format":"d","tickSize":-7,"labelPadding":19,"labelFlush":false,"labelOverlap":false,"title":["σ (cm⁻¹)","CH3°bend A2"],"titlePadding":6,"titleLineHeight":14}},
"y":{"field":"y","type":"quantitative","scale":{"domain":[-0.0093,0.2532],"nice":false,"zero":false},"axis":{"orient":"left","values":[0,0.05,0.1,0.15,0.2,0.25],"format":".2f","tickSize":-9,"labelPadding":5,"labelFlush":false,"labelOverlap":false,"title":"Optical Depth","titlePadding":16}},
"color":{"field":"k","type":"quantitative","legend":null,"scale":{"domain":[1,17,24,32,38,45],"range":["#00f000","#00ffee","#00a8ff","#1020ff","#5800e8","#600098"]}},
"detail":{"field":"k","type":"nominal"}}},
{"transform":[{"filter":"datum.k == 0"}],"mark":{"type":"line","interpolate":"catmull-rom","strokeWidth":1,"color":"#ff0000","clip":true},
"encoding":{"x":{"field":"x","type":"quantitative","axis":null},"y":{"field":"y","type":"quantitative","axis":null}}},
{"transform":[{"filter":"datum.k == 45"}],"mark":{"type":"point","opacity":0},
"encoding":{"x":{"field":"x","type":"quantitative","axis":{"orient":"bottom","values":[1343,1344,1345,1346,1347,1348,1349,1350,1351,1352,1353,1354,1355,1356,1357,1358,1359,1360,1361,1362,1363,1364,1365,1366,1367,1368,1369,1370,1371,1372,1373,1374,1375,1376,1377,1378,1379,1380,1381,1382,1383,1384,1385,1386,1387,1388,1389,1390,1391,1392,1393,1394,1395,1396,1397],"tickSize":-4,"labels":false,"title":null}},
"y":{"field":"y","type":"quantitative","axis":{"orient":"left","values":[0,0.01,0.02,0.03,0.04,0.05,0.06,0.07,0.08,0.09,0.1,0.11,0.12,0.13,0.14,0.15,0.16,0.17,0.18,0.19,0.2,0.21,0.22,0.23,0.24,0.25],"tickSize":-5,"labels":false,"title":null}}}},
{"transform":[{"filter":"datum.k == 45"}],"mark":{"type":"point","opacity":0},
"encoding":{"x":{"field":"x","type":"quantitative","axis":{"orient":"top","values":[1390,1380,1370,1360,1350],"tickSize":-6,"labels":false,"title":null}},
"y":{"field":"y","type":"quantitative","axis":{"orient":"right","values":[0,0.05,0.1,0.15,0.2,0.25],"tickSize":-8,"labels":false,"title":null}}}},
{"transform":[{"filter":"datum.k == 45"}],"mark":{"type":"point","opacity":0},
"encoding":{"x":{"field":"x","type":"quantitative","axis":{"orient":"top","values":[1343,1344,1345,1346,1347,1348,1349,1350,1351,1352,1353,1354,1355,1356,1357,1358,1359,1360,1361,1362,1363,1364,1365,1366,1367,1368,1369,1370,1371,1372,1373,1374,1375,1376,1377,1378,1379,1380,1381,1382,1383,1384,1385,1386,1387,1388,1389,1390,1391,1392,1393,1394,1395,1396,1397],"tickSize":-3.5,"labels":false,"title":null}},
"y":{"field":"y","type":"quantitative","axis":{"orient":"right","values":[0,0.01,0.02,0.03,0.04,0.05,0.06,0.07,0.08,0.09,0.1,0.11,0.12,0.13,0.14,0.15,0.16,0.17,0.18,0.19,0.2,0.21,0.22,0.23,0.24,0.25],"tickSize":-5,"labels":false,"title":null}}}},
{"data":{"values":[{"label":"7.3 µm"}]},"mark":{"type":"text","align":"left","baseline":"alphabetic","font":"Liberation Sans","fontWeight":"bold","fontSize":37,"color":"#000"},
"encoding":{"text":{"field":"label","type":"nominal"},"x":{"datum":1395.75,"type":"quantitative","axis":null},"y":{"datum":0.2125,"type":"quantitative","axis":null}}}
]}
